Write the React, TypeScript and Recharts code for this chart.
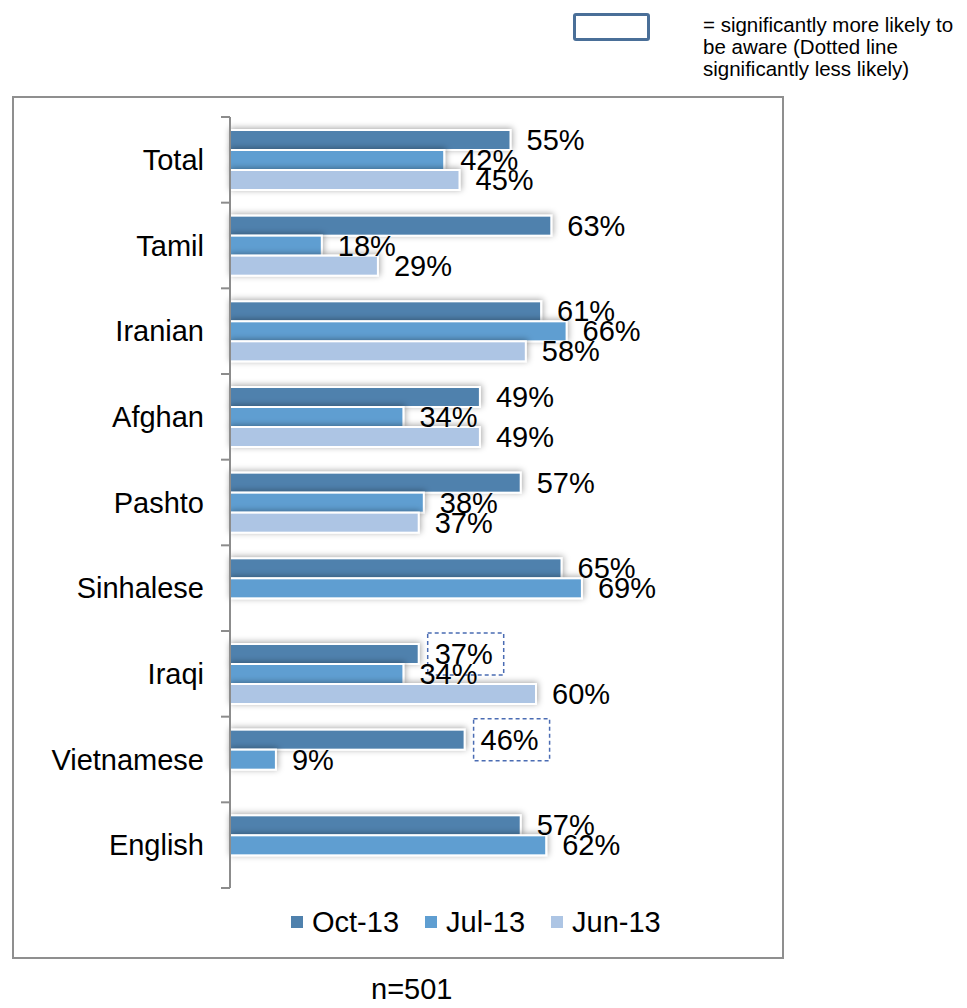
import React from 'react';
import { BarChart, Bar, XAxis, YAxis, Legend, LabelList } from 'recharts';

const categories = ['Total', 'Tamil', 'Iranian', 'Afghan', 'Pashto', 'Sinhalese', 'Iraqi', 'Vietnamese', 'English'];
const oct13 = [55, 63, 61, 49, 57, 65, 37, 46, 57];
const jul13 = [42, 18, 66, 34, 38, 69, 34, 9, 62];
const jun13: (number | null)[] = [45, 29, 58, 49, 37, null, 60, null, null];
const seriesNames = ['Oct-13', 'Jul-13', 'Jun-13'];
// Oct-13 values flagged as significantly less likely (dotted box)
const lessLikelyOct = ['Iraqi', 'Vietnamese'];

const data = categories.map((name, i) => ({
  name,
  oct: oct13[i],
  jul: jul13[i],
  jun: jun13[i],
}));

const FONT = '"Liberation Sans", Arial, sans-serif';
const FS = 29;
const CHART_W = 772;
const CHART_H = 863;
const MARGIN = { top: 21, right: 44, left: 0, bottom: 20 };
const LEGEND_H = 51;
const PLOT_H = CHART_H - MARGIN.top - MARGIN.bottom - LEGEND_H;
const BAND = PLOT_H / categories.length;
const AXIS_GRAY = '#8c8c8c';

const CategoryTick = (props: any) => {
  const { x, y, payload, index } = props;
  const last = index === categories.length - 1;
  return (
    <g>
      <line x1={x - 9} x2={x} y1={y - BAND / 2} y2={y - BAND / 2} stroke={AXIS_GRAY} strokeWidth={2} />
      {last && (
        <line x1={x - 9} x2={x} y1={y + BAND / 2} y2={y + BAND / 2} stroke={AXIS_GRAY} strokeWidth={2} />
      )}
      <text x={x - 26} y={y} dy="0.35em" textAnchor="end" fontSize={FS} fill="#000" fontFamily={FONT}>
        {payload.value}
      </text>
    </g>
  );
};

const ShadowBar = (props: any) => {
  const { x, y, width, height, fill } = props;
  if (!width || width <= 0) return null;
  return (
    <rect
      x={x}
      y={y}
      width={width}
      height={height}
      fill={fill}
      stroke="#fff"
      strokeWidth={2}
      filter="url(#barShadow)"
    />
  );
};

const makeLabel = (flagged: string[]) => (props: any) => {
  const { x, y, width, height, value, index } = props;
  if (value == null) return null;
  const endX = x + width;
  const cy = y + height / 2;
  const boxed = flagged.includes(categories[index]);
  return (
    <g>
      {boxed && (
        <rect
          x={endX + 9}
          y={cy - 21}
          width={76}
          height={42}
          fill="none"
          stroke="#4a6cb3"
          strokeWidth={1.5}
          strokeDasharray="4 3"
        />
      )}
      <text x={endX + 16} y={cy} dy="0.35em" fontSize={FS} fill="#000" fontFamily={FONT}>
        {value}%
      </text>
    </g>
  );
};

const LegendContent = (props: any) => {
  const items = [...(props.payload || [])].sort(
    (a: any, b: any) => seriesNames.indexOf(a.value) - seriesNames.indexOf(b.value)
  );
  return (
    <div style={{ height: LEGEND_H, display: 'flex', alignItems: 'flex-end', paddingLeft: 279, boxSizing: 'border-box' }}>
      {items.map((entry: any) => (
        <div
          key={entry.value}
          style={{ display: 'flex', alignItems: 'center', marginRight: 26, height: 34, fontFamily: FONT, fontSize: FS, color: '#000' }}
        >
          <span style={{ width: 12, height: 12, background: entry.color, marginRight: 9, display: 'inline-block' }} />
          <span style={{ lineHeight: '29px' }}>{entry.value}</span>
        </div>
      ))}
    </div>
  );
};

export default function App() {
  return (
    <div style={{ position: 'absolute', left: 0, top: 0, width: 967, height: 1008, background: '#fff', fontFamily: FONT, overflow: 'hidden' }}>
      <div
        style={{
          position: 'absolute',
          left: 573,
          top: 13,
          width: 71,
          height: 22,
          border: '3px solid #4a6f98',
          borderRadius: 3,
        }}
      />
      <div style={{ position: 'absolute', left: 703, top: 14, fontSize: 20.5, lineHeight: '22px', color: '#000', whiteSpace: 'nowrap' }}>
        = significantly more likely to
        <br />
        be aware (Dotted line
        <br />
        significantly less likely)
      </div>
      <div
        style={{
          position: 'absolute',
          left: 12,
          top: 96,
          width: CHART_W,
          height: CHART_H,
          border: '2.5px solid #8f8f8f',
          boxSizing: 'border-box',
        }}
      />
      <div style={{ position: 'absolute', left: 12, top: 96 }}>
        <BarChart
          width={CHART_W}
          height={CHART_H}
          data={data}
          layout="vertical"
          margin={MARGIN}
          barCategoryGap={13}
          barGap={0}
        >
          <defs>
            <filter id="barShadow" x="-20%" y="-60%" width="140%" height="220%">
              <feDropShadow dx={1} dy={-1} stdDeviation={3} floodColor="#000" floodOpacity={0.35} />
            </filter>
          </defs>
          <XAxis type="number" domain={[0, 100]} hide />
          <YAxis
            type="category"
            dataKey="name"
            width={218}
            axisLine={{ stroke: AXIS_GRAY, strokeWidth: 2 }}
            tickLine={false}
            tickSize={0}
            tickMargin={0}
            tick={<CategoryTick />}
            interval={0}
          />
          <Legend verticalAlign="bottom" height={LEGEND_H} wrapperStyle={{ left: 0, width: CHART_W }} content={<LegendContent />} />
          <Bar dataKey="oct" name={seriesNames[0]} fill="#4f81ad" shape={<ShadowBar />} isAnimationActive={false}>
            <LabelList dataKey="oct" content={makeLabel(lessLikelyOct)} />
          </Bar>
          <Bar dataKey="jul" name={seriesNames[1]} fill="#5f9ed1" shape={<ShadowBar />} isAnimationActive={false}>
            <LabelList dataKey="jul" content={makeLabel([])} />
          </Bar>
          <Bar dataKey="jun" name={seriesNames[2]} fill="#adc5e4" shape={<ShadowBar />} isAnimationActive={false}>
            <LabelList dataKey="jun" content={makeLabel([])} />
          </Bar>
        </BarChart>
      </div>
      <div style={{ position: 'absolute', left: 371, top: 975, fontSize: FS, lineHeight: '29px', color: '#000' }}>n=501</div>
    </div>
  );
}
